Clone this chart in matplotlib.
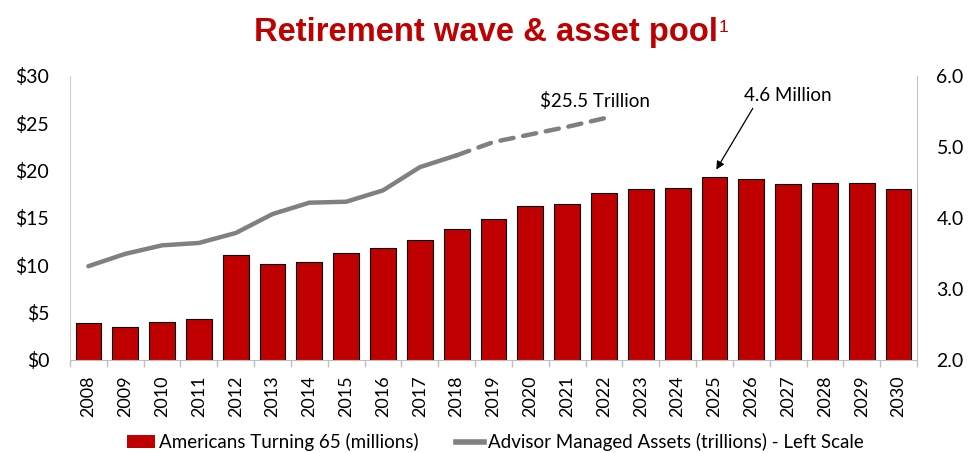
import numpy as np
import matplotlib
matplotlib.use("Agg")
import matplotlib.pyplot as plt
from matplotlib.patches import Patch
from matplotlib.lines import Line2D

plt.rcParams['font.family'] = ['Lato', 'DejaVu Sans']

# data
years = ['2008', '2009', '2010', '2011', '2012', '2013', '2014', '2015',
         '2016', '2017', '2018', '2019', '2020', '2021', '2022', '2023',
         '2024', '2025', '2026', '2027', '2028', '2029', '2030']
turning_65 = [2.52, 2.47, 2.53, 2.57, 3.48, 3.35, 3.38, 3.50, 3.57, 3.69,
              3.84, 3.98, 4.16, 4.19, 4.35, 4.40, 4.42, 4.57, 4.54, 4.48,
              4.49, 4.49, 4.41]
# advisor managed assets, trillions (actual 2008-2018, projected 2018-2022)
assets_actual = [9.9, 11.2, 12.1, 12.35, 13.4, 15.4, 16.6, 16.7, 17.9, 20.35, 21.6]
assets_projected = [21.6, 23.0, 23.8, 24.6, 25.5]

left_ticks = [0, 5, 10, 15, 20, 25, 30]
left_labels = ['$0', '$5', '$10', '$15', '$20', '$25', '$30']
right_ticks = [2, 3, 4, 5, 6]
right_labels = ['2.0', '3.0', '4.0', '5.0', '6.0']

red = '#C00000'
grey = '#808080'

fig = plt.figure(figsize=(9.71, 4.53), dpi=100)
ax = fig.add_axes([0.0721, 0.2053, 0.8723, 0.6276])
ax2 = ax.twinx()

x = np.arange(len(years))

# bars on right scale
ax2.bar(x, turning_65, width=0.7, color=red, edgecolor='black', linewidth=0.8)
ax2.set_ylim(2, 6)

# line on left scale, drawn above bars
ax.set_zorder(ax2.get_zorder() + 1)
ax.patch.set_visible(False)
n_act = len(assets_actual)
ax.plot(x[:n_act], assets_actual, color=grey, lw=3.2, solid_capstyle='round')
ax.plot(x[n_act - 1:n_act - 1 + len(assets_projected)], assets_projected,
        color=grey, lw=3.2, linestyle=(0, (3, 2.2)), dash_capstyle='round')
ax.set_ylim(0, 30)
ax.set_xlim(-0.5, len(years) - 0.5)

ax.set_yticks(left_ticks)
ax.set_yticklabels(left_labels)
ax.tick_params(axis='y', length=0, pad=15, labelsize=14)
ax2.set_yticks(right_ticks)
ax2.set_yticklabels(right_labels)
ax2.tick_params(axis='y', length=0, pad=14, labelsize=14)

ax.set_xticks(x)
ax.set_xticklabels(years, rotation=90, fontsize=13)
ax.tick_params(axis='x', which='major', length=0, pad=11)
ax.set_xticks(np.arange(-0.5, len(years), 1), minor=True)
ax.tick_params(axis='x', which='minor', length=5, color='#BFBFBF', width=1)

for s in ['top', 'right']:
    ax.spines[s].set_visible(False)
for s in ['top', 'left', 'bottom']:
    ax2.spines[s].set_visible(False)
ax.spines['left'].set_color('#D0D0D0')
ax.spines['bottom'].set_color('#BFBFBF')
ax2.spines['right'].set_color('#BFBFBF')

# annotations
ax2.annotate('', xy=(17.05, 4.68), xytext=(18.04, 5.54),
             arrowprops=dict(arrowstyle='-|>', color='black', lw=0.9,
                             mutation_scale=12, shrinkA=0, shrinkB=0))
ax2.text(19.0, 5.72, '4.6 Million', ha='center', va='center', fontsize=13.5)
ax.text(13.75, 27.3, '$25.5 Trillion', ha='center', va='center', fontsize=13.5)

# title with superscript
t = fig.text(0.5, 0.9095, 'Retirement wave & asset pool', ha='center',
             va='baseline', fontsize=23.6, fontweight='bold', color=red,
             family='Liberation Sans')
ax.annotate('1', xy=(1, 1), xycoords=t, xytext=(0.5, -2.2),
            textcoords='offset points', ha='left', va='top', fontsize=12.5,
            color=red, family='Liberation Sans', annotation_clip=False)

handles = [Patch(facecolor=red, edgecolor='none'),
           Line2D([], [], color=grey, lw=4)]
fig.legend(handles, ['Americans Turning 65 (millions)',
                     'Advisor Managed Assets (trillions) - Left Scale'],
           loc='center', bbox_to_anchor=(0.51, 0.024), ncol=2, frameon=False,
           fontsize=13.5, handlelength=1.5, handletextpad=0.2, columnspacing=2.0)

fig.savefig('out.png', dpi=100)
